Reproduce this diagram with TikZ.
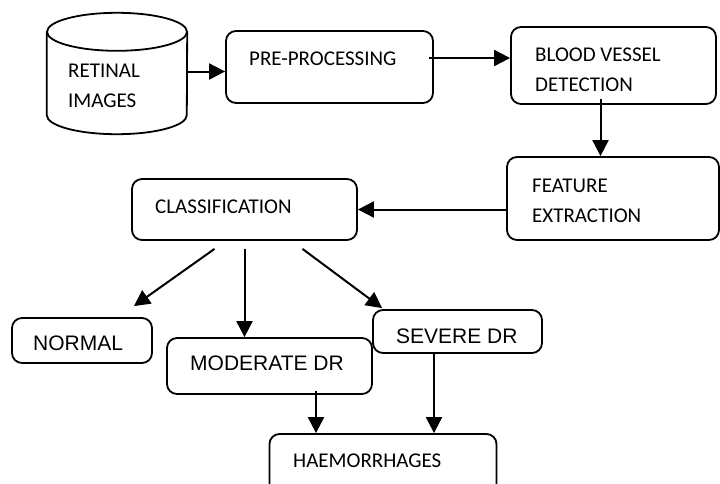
\documentclass[tikz,border=0pt]{standalone}
\usepackage{fontspec}
\setmainfont{Carlito}
\newfontfamily\arialfont{Liberation Sans}
\usepackage{tikz}
\usetikzlibrary{arrows.meta,shapes}
\tikzstyle{block}=[draw,line width=1.8pt,rounded corners=10pt,inner sep=0pt]
\tikzstyle{store}=[inner sep=0pt]
\tikzstyle{txt}=[anchor=base west,inner sep=0pt,align=left,font=\fontsize{21}{30}\selectfont]
\tikzstyle{atxt}=[anchor=base west,inner sep=0pt,font=\arialfont\fontsize{21}{30}\selectfont]
\tikzstyle{edge}=[draw,line width=2pt,-{Triangle[length=16pt,width=16pt]}]

\begin{document}
\begin{tikzpicture}[x=1pt,y=-1pt]
        \useasboundingbox (0,0) rectangle (720,483);
        % boxes
        \node[store,minimum width=140pt,minimum height=121pt] (db) at (117,73.5) {};
        \draw[line width=1.8pt] ([yshift=-19pt]db.north west) -- ([yshift=19pt]db.south west)
          arc[start angle=180,end angle=360,x radius=70pt,y radius=19pt] -- ([yshift=-19pt]db.north east);
        \draw[line width=1.8pt] ([yshift=-19pt]db.north) ellipse [x radius=70pt,y radius=19pt];
        \node[block,minimum width=207pt,minimum height=72pt] (pre) at (329.5,67) {};
        \node[block,minimum width=205pt,minimum height=77pt] (bvd) at (613.5,65.5) {};
        \node[block,minimum width=212pt,minimum height=83pt] (fe) at (613,198.5) {};
        \node[block,minimum width=225pt,minimum height=61pt] (cls) at (244.5,209.5) {};
        \node[block,minimum width=140pt,minimum height=45pt] (nor) at (82,340.5) {};
        \node[block,minimum width=205pt,minimum height=56pt] (mod) at (269.5,366) {};
        \node[block,minimum width=169pt,minimum height=43pt] (sev) at (457.5,331.5) {};
        \node[block,minimum width=227pt,minimum height=70pt] (hae) at (383,469) {};
        % texts
        \node[txt] (dbtxt) at (68,107) {RETINAL\\IMAGES};
        \node[txt] (pretxt) at (249,65) {PRE-PROCESSING};
        \node[txt] (bvdtxt) at (535,91) {BLOOD VESSEL\\DETECTION};
        \node[txt] (fetxt) at (532,222) {FEATURE\\EXTRACTION};
        \node[txt] (clstxt) at (155,213) {CLASSIFICATION};
        \node[atxt] (nortxt) at (33,350) {NORMAL};
        \node[atxt] (modtxt) at (190,370) {MODERATE DR};
        \node[atxt] (sevtxt) at (396,343) {SEVERE DR};
        \node[txt] (haetxt) at (293,467) {HAEMORRHAGES};
        % free ends
        \coordinate (c1) at ([xshift=-30pt,yshift=-8pt]cls.south);
        \coordinate (c2) at ([yshift=-8pt]cls.south);
        \coordinate (c3) at ([xshift=58pt,yshift=-8pt]cls.south);
        \coordinate (n1) at ([xshift=-19pt,yshift=11pt]nor.north east);
        % arrows
        \draw[edge] ([yshift=2pt]db.east) to ([yshift=2pt]db.east -| pre.west);
        \draw[edge] ([xshift=-5pt,yshift=9pt]pre.east) to ([yshift=9pt]pre.east -| bvd.west);
        \draw[edge] ([xshift=-13pt,yshift=6pt]bvd.south) to ([xshift=-13pt]bvd.south |- fe.north);
        \draw[edge] (fe.west |- cls.east) to (cls.east);
        \draw[edge] (c1) to (n1);
        \draw[edge] (c2) to (c2 |- mod.north);
        \draw[edge] (c3) to ([xshift=10pt,yshift=1pt]sev.north west);
        \draw[edge] ([xshift=46.5pt,yshift=4pt]mod.south) to ([xshift=46.5pt]mod.south |- hae.north);
        \draw[edge] ([xshift=-23.5pt]sev.south) to ([xshift=-23.5pt]sev.south |- hae.north);
      \end{tikzpicture}
\end{document}
